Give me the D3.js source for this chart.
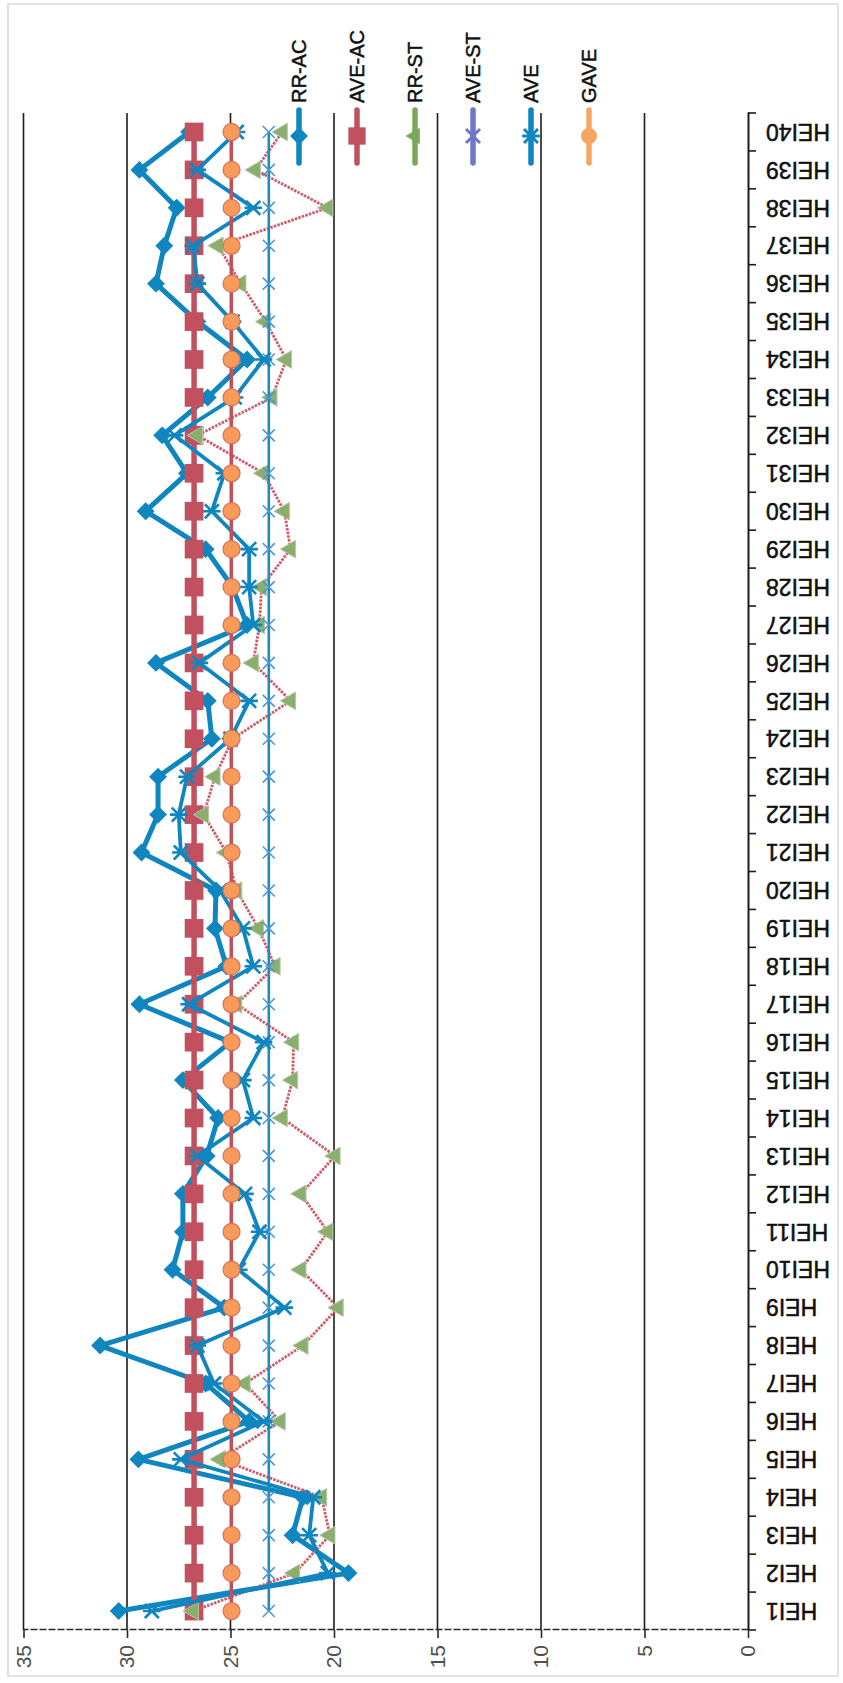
<!DOCTYPE html>
<html>
<head>
<meta charset="utf-8">
<script src="https://cdn.jsdelivr.net/npm/d3@7"></script>
<style>
  html, body { margin: 0; padding: 0; background: #fff; }
  svg { display: block; }
</style>
</head>
<body>
<svg id="chart" width="843" height="1683"></svg>
<script>
// ---- data ---------------------------------------------------------------
const categories = [
  "HEI1","HEI2","HEI3","HEI4","HEI5","HEI6","HEI7","HEI8","HEI9","HEI10",
  "HEI11","HEI12","HEI13","HEI14","HEI15","HEI16","HEI17","HEI18","HEI19","HEI20",
  "HEI21","HEI22","HEI23","HEI24","HEI25","HEI26","HEI27","HEI28","HEI29","HEI30",
  "HEI31","HEI32","HEI33","HEI34","HEI35","HEI36","HEI37","HEI38","HEI39","HEI40"
];

const rrAC = [
  30.4, 19.3, 22.0, 21.5, 29.45, 24.1, 26.2, 31.3, 25.3, 27.8,
  27.3, 27.3, 26.15, 25.6, 27.3, 25.0, 29.4, 25.2, 25.75, 25.7,
  29.3, 28.5, 28.5, 25.9, 26.1, 28.6, 24.2, 24.9, 26.2, 29.1,
  27.1, 28.3, 26.1, 24.2, 26.6, 28.6, 28.2, 27.6, 29.4, 27.0
];

const aveAC = [
  26.76, 26.76, 26.76, 26.76, 26.76, 26.76, 26.76, 26.76, 26.76, 26.76,
  26.76, 26.76, 26.76, 26.76, 26.76, 26.76, 26.76, 26.76, 26.76, 26.76,
  26.76, 26.76, 26.76, 26.76, 26.76, 26.76, 26.76, 26.76, 26.76, 26.76,
  26.76, 26.76, 26.76, 26.76, 26.76, 26.76, 26.76, 26.76, 26.76, 26.76
];

const rrST = [
  26.8, 21.9, 20.2, 20.6, 25.5, 22.6, 24.3, 21.5, 19.8, 21.6,
  20.3, 21.6, 19.95, 22.5, 22.0, 21.95, 24.7, 22.85, 23.65, 24.7,
  25.2, 26.3, 25.75, 24.9, 22.1, 23.9, 23.6, 23.5, 22.1, 22.4,
  23.4, 26.6, 23.0, 22.3, 23.3, 24.5, 25.6, 20.3, 23.8, 22.5
];

const aveST = [
  23.15, 23.15, 23.15, 23.15, 23.15, 23.15, 23.15, 23.15, 23.15, 23.15,
  23.15, 23.15, 23.15, 23.15, 23.15, 23.15, 23.15, 23.15, 23.15, 23.15,
  23.15, 23.15, 23.15, 23.15, 23.15, 23.15, 23.15, 23.15, 23.15, 23.15,
  23.15, 23.15, 23.15, 23.15, 23.15, 23.15, 23.15, 23.15, 23.15, 23.15
];

const ave = [
  28.8, 20.3, 21.2, 21.0, 27.4, 23.4, 25.8, 26.6, 22.4, 24.6,
  23.6, 24.3, 26.6, 23.9, 24.4, 23.4, 27.0, 23.9, 24.4, 25.5,
  27.4, 27.5, 27.1, 25.0, 24.1, 26.5, 23.9, 24.1, 24.1, 25.9,
  25.3, 27.7, 24.8, 23.4, 24.9, 26.6, 26.8, 23.9, 26.6, 24.7
];

const gAve = [
  24.95, 24.95, 24.95, 24.95, 24.95, 24.95, 24.95, 24.95, 24.95, 24.95,
  24.95, 24.95, 24.95, 24.95, 24.95, 24.95, 24.95, 24.95, 24.95, 24.95,
  24.95, 24.95, 24.95, 24.95, 24.95, 24.95, 24.95, 24.95, 24.95, 24.95,
  24.95, 24.95, 24.95, 24.95, 24.95, 24.95, 24.95, 24.95, 24.95, 24.95
];

const valueTicks = [0, 5, 10, 15, 20, 25, 30, 35];
const legendNames = ["RR-AC", "AVE-AC", "RR-ST", "AVE-ST", "AVE", "GAVE"];

// ---- colours -------------------------------------------------------------
const BLUE = "#0f86c0";
const MAROON = "#c1515f";
const GREEN = "#8aae6e";
const REDDOT = "#d05a66";
const PURPLE = "#6d78c6";
const ORANGE = "#f79a5a";
const ORANGE_LEG = "#f6a565";
const FONT = "'Liberation Sans', Arial, sans-serif";

// ---- frame: the chart is laid out landscape, then turned a quarter turn --
const W = 1683, H = 843;
const svg = d3.select("#chart");

svg.append("rect")
  .attr("x", 8).attr("y", 4).attr("width", 830).attr("height", 1672)
  .attr("fill", "#fff").attr("stroke", "#d9d9d9").attr("stroke-width", 1.5);

const g = svg.append("g").attr("transform", `translate(0,${W}) rotate(-90)`);

const plot = { left: 53, right: 1570, top: 23.5, bottom: 748 };

const x = d3.scaleBand().domain(categories).range([plot.left, plot.right]);
const y = d3.scaleLinear().domain([0, 35]).range([plot.bottom, plot.top]);
const cx = c => x(c) + x.bandwidth() / 2;

// ---- gridlines -------------------------------------------------------------
g.append("g").selectAll("line")
  .data(valueTicks.filter(v => v > 0))
  .join("line")
  .attr("x1", plot.left).attr("x2", plot.right)
  .attr("y1", d => y(d)).attr("y2", d => y(d))
  .attr("stroke", "#1c1c1c").attr("stroke-width", 1.6);

// ---- value axis --------------------------------------------------------------
const yAxis = g.append("g")
  .attr("transform", `translate(${plot.left},0)`)
  .call(d3.axisLeft(y).tickValues(valueTicks).tickSize(8).tickSizeOuter(0).tickPadding(7));
yAxis.select(".domain").attr("stroke", "#2a2a2a").attr("stroke-width", 1.5)
  .attr("stroke-dasharray", "7,2");
yAxis.selectAll(".tick line").attr("stroke", "#2a2a2a").attr("stroke-width", 1.6);
yAxis.selectAll(".tick text")
  .attr("font-family", FONT)
  .attr("font-size", 21).attr("fill", "#505050");

// ---- category axis ------------------------------------------------------------
const xAxis = g.append("g")
  .attr("transform", `translate(0,${plot.bottom})`)
  .call(d3.axisBottom(x).tickSize(0).tickSizeOuter(0).tickPadding(0));
xAxis.select(".domain").attr("stroke", "#1c1c1c").attr("stroke-width", 2);
xAxis.selectAll(".tick text")
  .attr("transform", "rotate(-90)")
  .attr("x", -18).attr("y", 0).attr("dy", "0.36em")
  .attr("text-anchor", "end")
  .attr("font-family", FONT)
  .attr("font-size", 23).attr("fill", "#111")
  .attr("stroke", "#111").attr("stroke-width", 0.5);

// tick marks sit between categories
const bounds = categories.map(c => x(c)).concat([x(categories[categories.length - 1]) + x.bandwidth()]);
xAxis.append("g").selectAll("line")
  .data(bounds).join("line")
  .attr("x1", d => d).attr("x2", d => d)
  .attr("y1", 0).attr("y2", 8)
  .attr("stroke", "#1c1c1c").attr("stroke-width", 1.6);

// ---- series helpers -----------------------------------------------------------
const lineGen = vals => d3.line()
  .x((d, i) => cx(categories[i]))
  .y(d => y(d))(vals);

function drawLine(vals, color, width, dash) {
  g.append("path")
    .attr("d", lineGen(vals))
    .attr("fill", "none")
    .attr("stroke", color)
    .attr("stroke-width", width)
    .attr("stroke-linejoin", "round")
    .attr("stroke-dasharray", dash || null);
}

function markerLayer(vals) {
  return g.append("g").selectAll("g")
    .data(vals).join("g")
    .attr("transform", (d, i) => `translate(${cx(categories[i])},${y(d)})`);
}

const diamondPath = d3.symbol(d3.symbolSquare, 160)();
const squarePath = d3.symbol(d3.symbolSquare, 350)();
const trianglePath = d3.symbol(d3.symbolTriangle, 135)();

function star(sel, r, color, w) {
  sel.append("path")
    .attr("d", `M${-r},${-r}L${r},${r}M${-r},${r}L${r},${-r}M0,${-r * 1.25}L0,${r * 1.25}`)
    .attr("stroke", color).attr("stroke-width", w).attr("fill", "none");
}
function cross(sel, r, color, w) {
  sel.append("path")
    .attr("d", `M${-r},${-r}L${r},${r}M${-r},${r}L${r},${-r}`)
    .attr("stroke", color).attr("stroke-width", w).attr("fill", "none");
}

// RR-AC
drawLine(rrAC, BLUE, 5);
markerLayer(rrAC).append("path").attr("d", diamondPath)
  .attr("transform", "rotate(45)").attr("fill", BLUE);

// AVE-AC
drawLine(aveAC, MAROON, 5.5);
markerLayer(aveAC).append("path").attr("d", squarePath).attr("fill", MAROON);

// RR-ST
drawLine(rrST, REDDOT, 2.8, "2.5,1.2");
markerLayer(rrST).append("path").attr("d", trianglePath)
  .attr("fill", GREEN).attr("stroke", "#b8c8a8").attr("stroke-width", 1);

// AVE-ST
drawLine(aveST, "#1f8ac6", 2.6);
cross(markerLayer(aveST), 6, "#4d97d0", 1.6);

// AVE
drawLine(ave, BLUE, 3.8);
star(markerLayer(ave), 7, BLUE, 2.6);

// GAVE
drawLine(gAve, "#c4505a", 3);
markerLayer(gAve).append("circle").attr("r", 8.5)
  .attr("fill", ORANGE).attr("stroke", "#d8705a").attr("stroke-width", 1.2);

// ---- legend ---------------------------------------------------------------
const legendStyles = [
  { color: BLUE,      mark: "diamond" },
  { color: MAROON,    mark: "square" },
  { color: "#79a85a", mark: "triangle" },
  { color: PURPLE,    mark: "cross" },
  { color: BLUE,      mark: "star" },
  { color: ORANGE_LEG, mark: "circle" }
];

const legend = g.append("g").selectAll("g")
  .data(legendNames).join("g")
  .attr("transform", (d, i) => `translate(1520,${299 + i * 58})`);

legend.each(function (name, i) {
  const s = legendStyles[i];
  const item = d3.select(this);
  item.append("line")
    .attr("x1", 0).attr("x2", 53).attr("y1", 0).attr("y2", 0)
    .attr("stroke", s.color).attr("stroke-width", 5.5).attr("stroke-linecap", "round");
  const m = item.append("g").attr("transform", "translate(27,0)");
  if (s.mark === "diamond") m.append("path").attr("d", diamondPath).attr("transform", "rotate(45)").attr("fill", s.color);
  if (s.mark === "square") m.append("path").attr("d", d3.symbol(d3.symbolSquare, 300)()).attr("fill", s.color);
  if (s.mark === "triangle") m.append("path").attr("d", d3.symbol(d3.symbolTriangle, 120)()).attr("fill", s.color);
  if (s.mark === "cross") cross(m, 7, s.color, 3);
  if (s.mark === "star") star(m, 7, s.color, 3);
  if (s.mark === "circle") m.append("circle").attr("r", 8).attr("fill", s.color);
  item.append("text")
    .attr("x", 60).attr("y", 0).attr("dy", "0.36em")
    .attr("font-family", FONT)
    .attr("font-size", 20).attr("fill", "#111")
    .attr("stroke", "#111").attr("stroke-width", 0.5)
    .text(name);
});
</script>
</body>
</html>
